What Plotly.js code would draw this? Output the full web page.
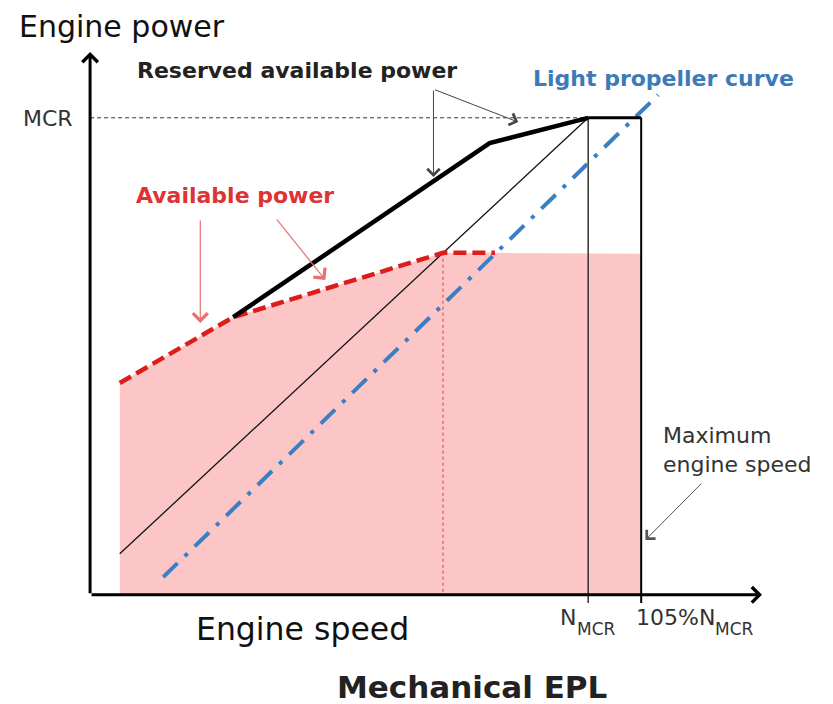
<!DOCTYPE html>
<html>
<head>
<meta charset="utf-8">
<script src="https://cdn.plot.ly/plotly-3.0.1.min.js"></script>
<style>
html,body{margin:0;padding:0;background:#fff;}
#chart{width:833px;height:704px;}
</style>
</head>
<body>
<div id="chart"></div>
<script>
// ---- data (engine speed in % of N_MCR, engine power in % of MCR) ----
const availSpeed = [55.8, 66.5, 86.3, 91.2];
const availPower = [44.4, 58.2, 71.7, 71.7];

const fillSpeed = [55.8, 55.8, 66.5, 86.3, 91.2, 105, 105];
const fillPower = [0, 44.4, 58.2, 71.7, 71.7, 71.5, 0];

const reservedSpeed = [66.5, 90.7, 100];
const reservedPower = [58.2, 94.7, 100];

const mcrTopSpeed = [100, 105];
const mcrTopPower = [100, 100];

const maxSpeedLineSpeed = [105, 105];
const maxSpeedLinePower = [100, -1.7];

const nmcrLineSpeed = [100, 100];
const nmcrLinePower = [100, -1.7];

const thinSpeed = [55.8, 100];
const thinPower = [8.6, 100];

const propSpeed = [59.9, 106.6];
const propPower = [3.7, 104.8];

const dotSpeed = [86.3, 86.3];
const dotPower = [71.7, 0];

const mcrDashSpeed = [53, 100];
const mcrDashPower = [100, 100];

const axisOrigin = [53, 0];
const xAxisEnd = 116.4;
const yAxisEnd = 113.8;

// tick labels: main part and subscript part
const tickMain = ['N', '105%N'];
const tickSub = ['MCR', 'MCR'];

// ---- layout helpers (pixel -> paper) ----
const W = 833, H = 704;
const px = v => v / W;
const py = v => 1 - v / H;
const FONT = 'DejaVu Sans, Liberation Sans, Arial, sans-serif';

function line(x, y, color, width, dash) {
  return {x: x, y: y, mode: 'lines', line: {color: color, width: width, dash: dash || 'solid'}, hoverinfo: 'skip'};
}

const traces = [
  {x: fillSpeed, y: fillPower, mode: 'lines', fill: 'toself', fillcolor: '#fdc6c6', line: {width: 0}, hoverinfo: 'skip'},
  line(dotSpeed, dotPower, '#e46a6a', 1.5, 'dot'),
  line(thinSpeed, thinPower, '#111', 1.3),
  line(nmcrLineSpeed, nmcrLinePower, '#333', 1.5),
  line(mcrDashSpeed, mcrDashPower, '#333', 1, '4px,3px'),
  line(propSpeed, propPower, '#3a7fc4', 4, '20px,10px,4px,10px'),
  line(availSpeed, availPower, '#dd1c1c', 4.5, '13px,6px'),
  line(reservedSpeed, reservedPower, '#000', 4.5),
  line(mcrTopSpeed, mcrTopPower, '#000', 3),
  line(maxSpeedLineSpeed, maxSpeedLinePower, '#000', 2)
];

function arrow(x, y, ax, ay, color, width, size) {
  return {x: x, y: y, ax: ax, ay: ay, xref: 'x', yref: 'y', axref: 'x', ayref: 'y',
    text: '', showarrow: true, arrowhead: 4, arrowsize: size, arrowwidth: width,
    arrowcolor: color, standoff: 0, startstandoff: 0};
}
function label(text, x, y, size, color, bold, xanchor) {
  return {text: bold ? '<b>' + text + '</b>' : text, x: px(x), y: py(y), xref: 'paper', yref: 'paper',
    showarrow: false, xanchor: xanchor || 'center', yanchor: 'middle', align: 'left',
    font: {family: FONT, size: size, color: color}};
}

const annotations = [
  // axes
  arrow(axisOrigin[0], yAxisEnd, axisOrigin[0], axisOrigin[1], '#000', 3, 1),
  arrow(xAxisEnd, axisOrigin[1], axisOrigin[0], axisOrigin[1], '#000', 3, 1),
  // pointer arrows
  arrow(85.4, 87.6, 85.4, 106.0, '#444', 1, 2.4),
  arrow(93.4, 99.1, 85.4, 106.0, '#444', 1, 2.4),
  arrow(63.4, 57.0, 63.4, 78.8, '#e87272', 1.2, 2.4),
  arrow(75.2, 66.0, 70.5, 79.0, '#e87272', 1.2, 2.4),
  arrow(105.4, 11.5, 110.8, 23.6, '#555', 1, 2.4),
  // texts
  label('Engine power', 122, 27, 30, '#111', false),
  label('Reserved available power', 297, 71, 22, '#222', true),
  label('Light propeller curve', 663, 79, 22, '#3d7ab8', true),
  label('MCR', 48, 118, 22, '#333', false),
  label('Available power', 235, 196, 22, '#dd3333', true),
  label('Maximum<br>engine speed', 661, 450, 22, '#333', false, 'left'),
  label('Engine speed', 302, 629, 31.5, '#111', false),
  label(tickMain[0], 558, 617, 22, '#333', false, 'left'),
  label(tickSub[0], 575, 629, 17, '#333', false, 'left'),
  label(tickMain[1], 634, 617, 22, '#333', false, 'left'),
  label(tickSub[1], 713, 629, 17, '#333', false, 'left'),
  label('Mechanical EPL', 472, 687, 31, '#222', true)
];

const layout = {
  width: W, height: H,
  margin: {l: 0, r: 0, t: 0, b: 0},
  paper_bgcolor: '#fff', plot_bgcolor: '#fff',
  showlegend: false,
  xaxis: {range: [44.5, 123.1], visible: false, fixedrange: true},
  yaxis: {range: [-22.9, 124.7], visible: false, fixedrange: true},
  annotations: annotations
};

Plotly.newPlot('chart', traces, layout, {staticPlot: true, displayModeBar: false});
</script>
</body>
</html>
